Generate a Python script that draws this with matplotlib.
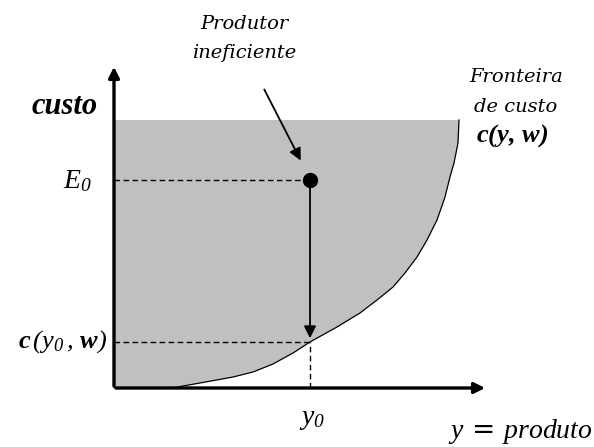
import numpy as np
import matplotlib
matplotlib.use('Agg')
import matplotlib.pyplot as plt

# Cost frontier c(y, w): points (output, cost)
frontier_y = [58, 86, 119, 139, 159, 179, 196, 223, 246, 263, 279, 291, 303,
              313, 323, 331, 336, 340, 344, 345]
frontier_c = [0, 5, 11, 16, 24, 35, 46, 61, 75, 88, 101, 115, 131,
              148, 168, 191, 211, 225, 245, 268]

cost_top = 268          # upper edge of the shaded region
y0 = 196                # output of the inefficient producer
E0 = 208                # observed cost
c_y0 = 46               # minimum cost at y0
y_axis_len = 324
x_axis_len = 374

plt.rcParams['mathtext.fontset'] = 'custom'
plt.rcParams['mathtext.rm'] = 'Liberation Serif:italic'
plt.rcParams['mathtext.it'] = 'Liberation Serif:italic'
plt.rcParams['mathtext.bf'] = 'Liberation Serif:italic:bold'
plt.rcParams['mathtext.default'] = 'it'

fig = plt.figure(figsize=(5.94, 4.47), dpi=100)
ax = fig.add_axes([0, 0, 1, 1])
ax.set_xlim(-114, 480)
ax.set_ylim(-59, 388)
ax.axis('off')

# shaded region above the frontier
poly_x = [0, 0] + frontier_y[::-1] + [0]
poly_y = [0, cost_top] + frontier_c[::-1] + [0]
ax.fill(poly_x, poly_y, color='#c0c0c0', lw=0, zorder=1)
ax.plot(frontier_y, frontier_c, color='k', lw=0.9, zorder=2)

# axes with arrow heads
ax.annotate('', xy=(0, y_axis_len), xytext=(0, -1),
            arrowprops=dict(arrowstyle='-|>', lw=2.4, color='k', mutation_scale=16))
ax.annotate('', xy=(x_axis_len, 0), xytext=(-1, 0),
            arrowprops=dict(arrowstyle='-|>', lw=2.4, color='k', mutation_scale=16))

# dashed guide lines
ax.plot([0, y0], [E0, E0], color='k', lw=1, ls=(0, (4, 2.5)), zorder=3)
ax.plot([0, y0], [c_y0, c_y0], color='k', lw=1, ls=(0, (4, 2.5)), zorder=3)
ax.plot([y0, y0], [0, c_y0], color='k', lw=1, ls=(0, (4, 2.5)), zorder=3)

# inefficient producer and its distance to the frontier
ax.annotate('', xy=(y0, c_y0 + 1), xytext=(y0, E0),
            arrowprops=dict(arrowstyle='-|>', lw=1.3, color='k', mutation_scale=18), zorder=4)
ax.plot([y0], [E0], 'o', color='k', ms=10, zorder=5)
ax.annotate('', xy=(188, 225), xytext=(149, 301),
            arrowprops=dict(arrowstyle='-|>', lw=1.3, color='k', mutation_scale=18))

serif_it = dict(family='Liberation Serif', style='italic')
label_it = dict(family='DejaVu Serif', style='italic')

ax.text(-16, 282, 'custo', ha='right', va='center', fontsize=22,
        fontweight='bold', **serif_it)
ax.text(-22, E0, r'$E_{0}$', ha='right', va='center', fontsize=20)
ax.text(-6, c_y0, r'$\mathbf{c}\,(y_{0}\,,\,\mathbf{w})$', ha='right',
        va='center', fontsize=19)
ax.text(y0 + 2, -30, r'$y_{0}$', ha='center', va='center', fontsize=20)
ax.text(479, -44, r'$y$ = $produto$', ha='right', va='center', fontsize=20)

ax.text(130, 364, 'Produtor', ha='center', va='center', fontsize=14, **label_it)
ax.text(130, 335, 'ineficiente', ha='center', va='center', fontsize=14, **label_it)
ax.text(402, 311, 'Fronteira', ha='center', va='center', fontsize=14, **label_it)
ax.text(402, 281, 'de custo', ha='center', va='center', fontsize=14, **label_it)
ax.text(398, 252, r'$\mathbf{c(y,\,w)}$', ha='center', va='center', fontsize=19)

fig.savefig('out.png', dpi=100)
